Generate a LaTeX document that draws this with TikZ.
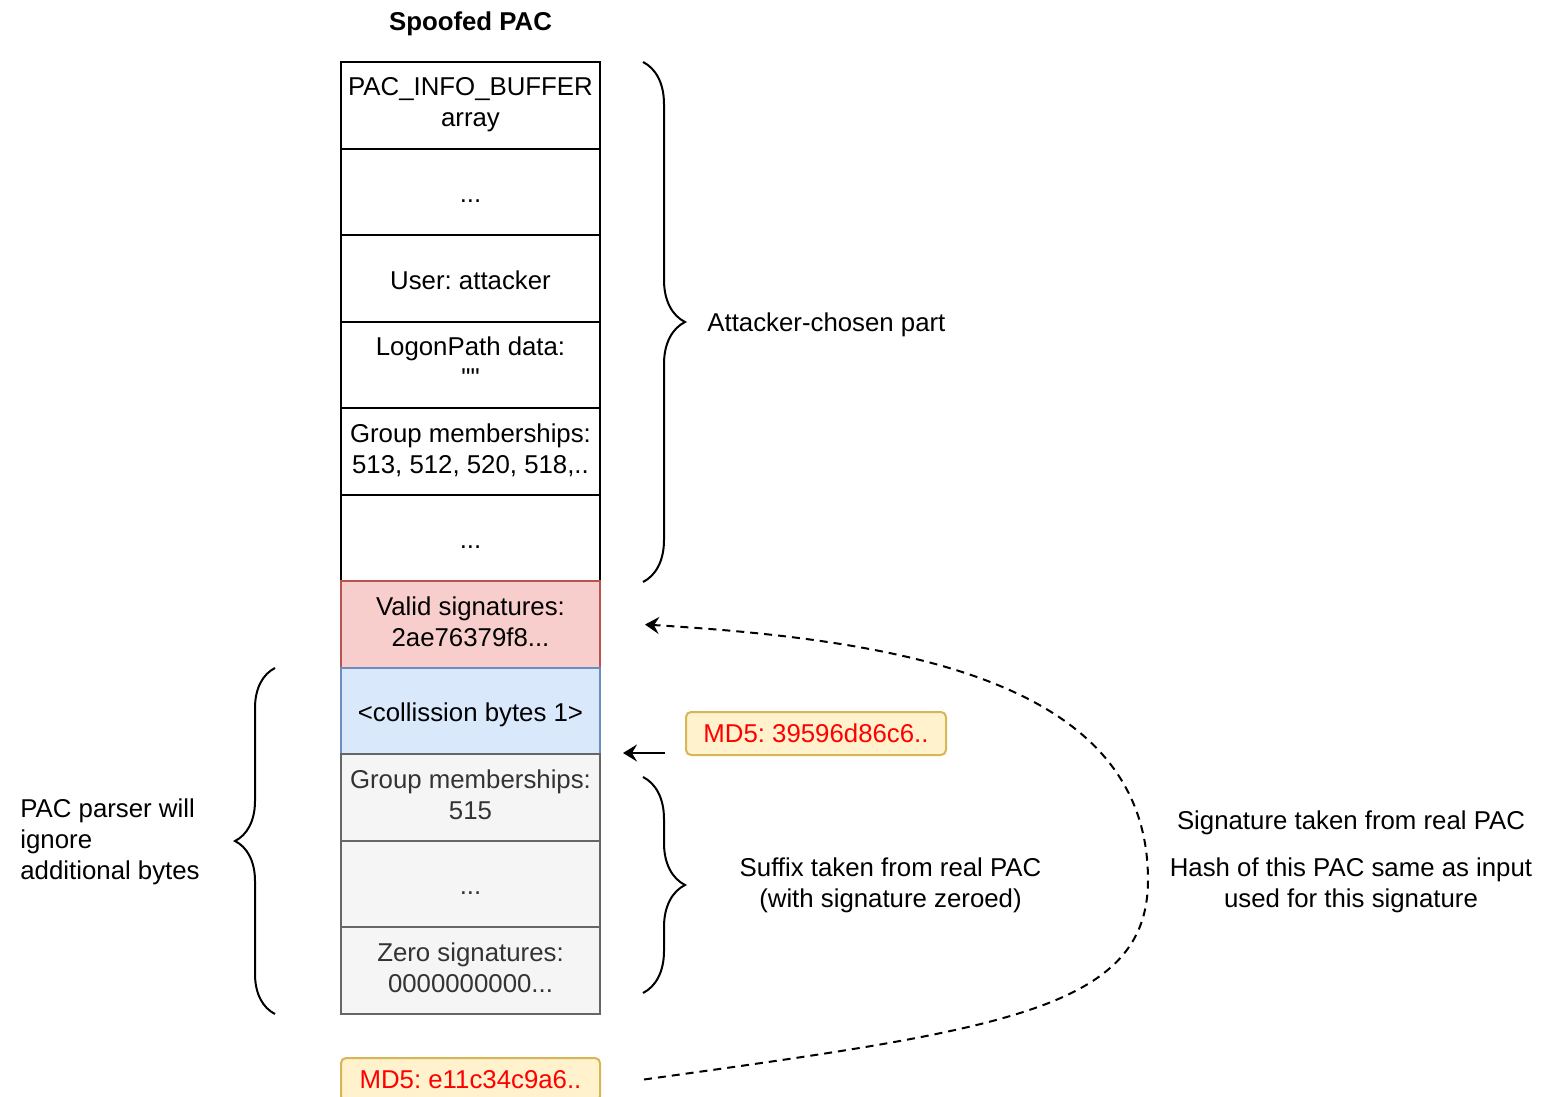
\documentclass[tikz,border=0pt]{standalone}
\usepackage{fontspec}
\setmainfont{Liberation Sans}
\newfontfamily\plainfont{Liberation Sans}
\usetikzlibrary{positioning,arrows.meta,decorations.pathreplacing,calc}
\definecolor{sigfill}{HTML}{F8CECC}
\definecolor{sigdraw}{HTML}{B85450}
\definecolor{colfill}{HTML}{DAE8FC}
\definecolor{coldraw}{HTML}{6C8EBF}
\definecolor{sufill}{HTML}{F5F5F5}
\definecolor{sudraw}{HTML}{666666}
\definecolor{sutext}{HTML}{333333}
\definecolor{hashfill}{HTML}{FFF2CC}
\definecolor{hashdraw}{HTML}{D6B656}
\definecolor{hashtext}{HTML}{FF0000}
% one line box of draw.io text, a hair under the baselineskip
\newcommand\padstrut{\rule[-3.3pt]{0pt}{15.4pt}}
\newcommand\celltop{\rule{0pt}{14pt}}
\frenchspacing

\begin{document}
\begin{tikzpicture}[x=0.5pt, y=-0.5pt,
    font=\fontsize{12.9}{15.5}\selectfont,
    cell/.style = {draw, line width=1pt, minimum width=129.5pt, minimum height=43.27pt,
                   align=center, inner sep=0pt, outer sep=0pt,
                   execute at begin node=\celltop\padstrut},
    sigcell/.style = {cell, fill=sigfill, draw=sigdraw},
    colcell/.style = {cell, fill=colfill, draw=coldraw},
    sufcell/.style = {cell, fill=sufill, draw=sudraw, text=sutext},
    hashbox/.style = {draw=hashdraw, fill=hashfill, text=hashtext, line width=1pt,
                      rounded corners=2.5pt, minimum height=21.5pt, inner sep=0pt,
                      execute at begin node=\padstrut},
    lbl/.style = {inner sep=0pt, align=center, execute at begin node=\padstrut},
    brace/.style = {decorate, line width=1pt, decoration={brace, amplitude=#1}}]
    \useasboundingbox (0,0) rectangle (1543,1097);

    % the spoofed PAC, top to bottom
    \node[lbl, font=\fontsize{12.9}{15.5}\selectfont\bfseries] (title) at (470.5,22) {Spoofed PAC};
    \node[cell] (pacinfo) at (470.5,105.3) {PAC\_INFO\_BUFFER\\\padstrut array};
    \node[cell, below=0pt of pacinfo] (dots1) {...};
    \node[cell, below=0pt of dots1] (user) {User: attacker};
    \node[cell, below=0pt of user] (logon) {LogonPath data:\\\padstrut{\plainfont""}};
    \node[cell, below=0pt of logon] (groups) {Group memberships:\\\padstrut 513, 512, 520, 518,..};
    \node[cell, below=0pt of groups] (dots2) {...};
    \node[sigcell, below=0pt of dots2] (valid) {Valid signatures:\\\padstrut 2ae76379f8...};
    \node[colcell, below=0pt of valid] (coll) {<collission bytes 1>};
    \node[sufcell, below=0pt of coll] (sgroups) {Group memberships:\\\padstrut 515};
    \node[sufcell, below=0pt of sgroups] (dots3) {...};
    \node[sufcell, below=0pt of dots3] (zero) {Zero signatures:\\\padstrut 0000000000...};

    % hashes
    \node[hashbox, minimum width=130pt] (md5a) at (816,733.5) {MD5: 39596d86c6..};
    \node[hashbox, minimum width=129.5pt] (md5b) at (470.5,1079.5) {MD5: e11c34c9a6..};

    % braces
    \draw[brace=21pt] (643,62) -- (643,582);
    \draw[brace=21pt] (643,777) -- (643,993);
    \draw[brace=20pt] (275,1014) -- (275,668);

    % texts
    \node[lbl, anchor=west] (atk) at (707,323) {Attacker-chosen part};
    \node[lbl, anchor=west, align=left] (ignore) at (20,842.5)
        {PAC parser will\\\padstrut ignore\\\padstrut additional bytes};
    \node[lbl] (suffix) at (890.5,886)
        {Suffix taken from real PAC\\\padstrut (with signature zeroed)};
    \node[lbl] (sigtxt) at (1351,821) {Signature taken from real PAC};
    \node[lbl] (hashtxt) at (1351,886)
        {Hash of this PAC same as input\\\padstrut used for this signature};

    % arrows
    \coordinate (hfrom) at (665,753);
    \coordinate (hto) at (623,753);
    \draw[line width=1pt, -{Stealth[length=7pt, width=8.5pt, inset=2.5pt]}] (hfrom) -- (hto);
    \coordinate (sfrom) at ($(md5b.east)+(43,0)$);
    \coordinate (sto) at ($(valid.east)+(45,0)$);
    \draw[line width=1pt, dash pattern=on 4pt off 3pt, -{Stealth[length=7pt, width=8.5pt, inset=2.5pt]}]
        (sfrom) .. controls (1000,1030) and (1148,1010) .. (1148,880)
                .. controls (1148,680) and (900,640) .. (sto);
\end{tikzpicture}
\end{document}
